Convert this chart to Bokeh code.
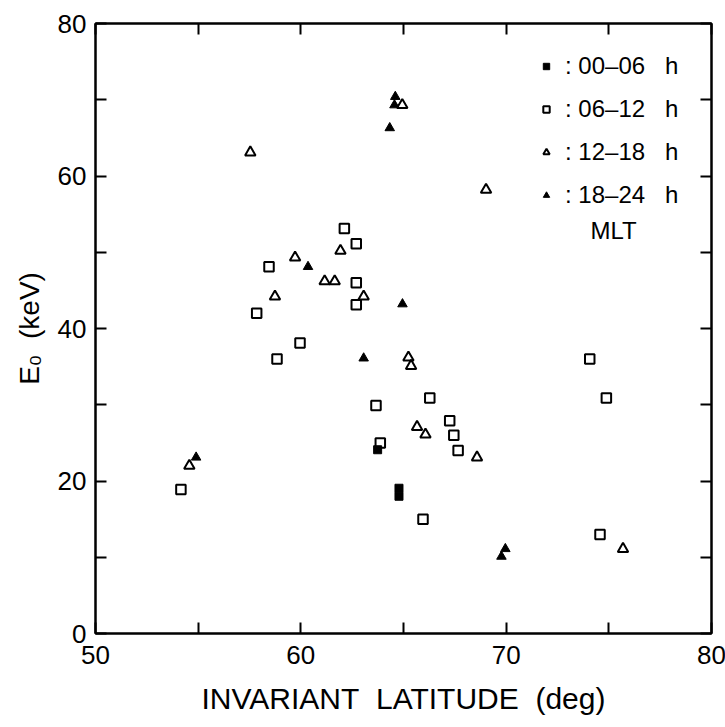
from bokeh.plotting import figure
from bokeh.models import (LinearAxis, FixedTicker, Legend, LegendItem, Label, Range1d,
                          CustomLabelingPolicy)
from bokeh.embed import file_html
from bokeh.resources import INLINE

# --- data ---
# 00-06 h MLT (filled squares)
x_00_06 = [63.74, 64.78, 64.78]
y_00_06 = [24.1, 18.0, 19.05]

# 06-12 h MLT (open squares)
x_06_12 = [62.12, 62.70, 58.45, 62.70, 62.70, 57.85, 59.96, 58.84, 63.66, 63.87,
           54.16, 66.28, 67.25, 67.45, 67.66, 65.95, 74.07, 74.88, 74.57]
y_06_12 = [53.1, 51.1, 48.1, 46.0, 43.1, 42.0, 38.1, 36.0, 29.9, 25.0,
           18.9, 30.9, 27.9, 26.0, 24.0, 15.0, 36.0, 30.9, 13.0]

# 12-18 h MLT (open triangles)
x_12_18 = [57.54, 61.93, 59.72, 61.16, 61.65, 58.74, 63.06, 65.24, 65.37, 54.57,
           65.66, 66.07, 68.58, 75.69, 69.02, 64.94]
y_12_18 = [63.1, 50.2, 49.3, 46.2, 46.2, 44.2, 44.2, 36.2, 35.1, 22.0,
           27.1, 26.1, 23.1, 11.1, 58.2, 69.3]

# 18-24 h MLT (filled triangles)
x_18_24 = [64.60, 64.56, 64.33, 60.35, 64.95, 63.06, 54.90, 69.96, 69.77]
y_18_24 = [70.4, 69.3, 66.3, 48.1, 43.2, 36.1, 23.1, 11.1, 10.1]

legend_labels = [": 00\u201306\u00a0\u00a0\u00a0h", ": 06\u201312\u00a0\u00a0\u00a0h",
                 ": 12\u201318\u00a0\u00a0\u00a0h", ": 18\u201324\u00a0\u00a0\u00a0h"]

x_major = [50, 60, 70, 80]
x_minor = [55, 65, 75]
y_major = [0, 20, 40, 60, 80]
y_minor = [10, 30, 50, 70]

FONT = "Liberation Sans"

p = figure(frame_width=616, frame_height=610,
           x_range=Range1d(50, 80), y_range=Range1d(0, 80),
           output_backend="svg", toolbar_location=None,
           x_axis_label="INVARIANT\u00a0\u00a0LATITUDE\u00a0\u00a0(deg)",
           y_axis_label="E\u2080\u00a0\u00a0(keV)")
p.min_border_left = 95
p.min_border_right = 14
p.min_border_top = 23
p.min_border_bottom = 94
p.background_fill_color = "white"
p.border_fill_color = "white"
p.outline_line_color = "black"
p.outline_line_width = 2
p.xgrid.visible = False
p.ygrid.visible = False


def style_axis(ax, show_labels=True):
    ax.axis_line_width = 2
    ax.axis_line_color = "black"
    ax.major_tick_in = 11
    ax.major_tick_out = 0
    ax.minor_tick_in = 11
    ax.minor_tick_out = 0
    ax.major_tick_line_width = 2
    ax.minor_tick_line_width = 2
    ax.major_tick_line_color = "black"
    ax.minor_tick_line_color = "black"
    ax.major_label_text_font = FONT
    ax.major_label_text_color = "black"
    if show_labels:
        ax.major_label_text_font_size = "26px"
    else:
        ax.major_label_policy = CustomLabelingPolicy(code="return []")
        ax.major_label_standoff = 0
    ax.axis_label_text_font = FONT
    ax.axis_label_text_font_style = "normal"
    ax.axis_label_text_color = "black"


xt = FixedTicker(ticks=x_major, minor_ticks=x_minor)
yt = FixedTicker(ticks=y_major, minor_ticks=y_minor)

p.xaxis.ticker = xt
p.yaxis.ticker = yt
for ax in p.xaxis:
    style_axis(ax)
    ax.major_label_standoff = 12
    ax.axis_label_standoff = 15
    ax.axis_label_text_font_size = "30px"
for ax in p.yaxis:
    style_axis(ax)
    ax.major_label_standoff = 9
    ax.axis_label_standoff = 10
    ax.axis_label_text_font_size = "28px"

top = LinearAxis(ticker=FixedTicker(ticks=x_major, minor_ticks=x_minor))
style_axis(top, show_labels=False)
p.add_layout(top, "above")
right = LinearAxis(ticker=FixedTicker(ticks=y_major, minor_ticks=y_minor))
style_axis(right, show_labels=False)
p.add_layout(right, "right")

r1 = p.scatter(x_00_06, y_00_06, marker="square", size=8,
               fill_color="black", line_color="black", line_width=1)
r2 = p.scatter(x_06_12, y_06_12, marker="square", size=9.5,
               fill_color=None, line_color="black", line_width=2)
r3 = p.scatter(x_12_18, y_12_18, marker="triangle", size=10.5,
               fill_color=None, line_color="black", line_width=2)
r4 = p.scatter(x_18_24, y_18_24, marker="triangle", size=9.5,
               fill_color="black", line_color="black", line_width=1)

legend = Legend(items=[LegendItem(label=legend_labels[0], renderers=[r1]),
                       LegendItem(label=legend_labels[1], renderers=[r2]),
                       LegendItem(label=legend_labels[2], renderers=[r3]),
                       LegendItem(label=legend_labels[3], renderers=[r4])],
                location=(443, 424))
legend.background_fill_alpha = 0
legend.border_line_color = None
legend.padding = 0
legend.margin = 0
legend.spacing = 15
legend.glyph_width = 16
legend.glyph_height = 16
legend.label_height = 28
legend.label_standoff = 11
legend.label_text_font = FONT
legend.label_text_font_size = "24px"
legend.label_text_color = "black"
p.add_layout(legend)

mlt = Label(x=613 - 95, y=633 - 230, x_units="screen", y_units="screen",
            text="MLT", text_font=FONT, text_font_size="24px",
            text_align="center", text_baseline="middle", text_color="black")
p.add_layout(mlt)

open("out.html", "w").write(file_html(p, INLINE))
